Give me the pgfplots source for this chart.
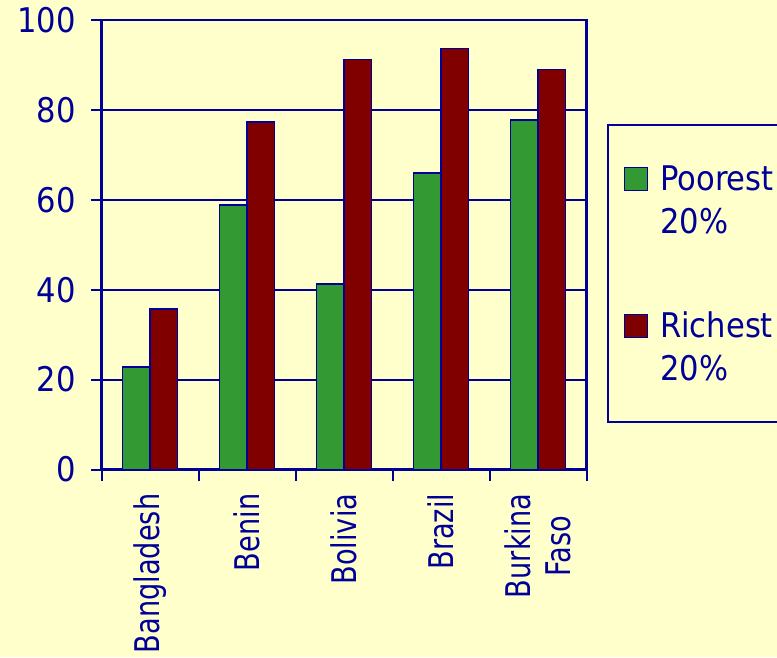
\documentclass[border=0pt]{standalone}
\usepackage{fontspec}
\setmainfont{DejaVu Sans}[FakeStretch=0.9]
\newfontfamily\labfont{DejaVu Sans}[FakeStretch=0.8]
\usepackage{pgfplots}
\pgfplotsset{compat=1.18}
\definecolor{bg}{RGB}{255,255,204}
\definecolor{navy}{RGB}{0,0,153}
\definecolor{pgreen}{RGB}{51,153,51}
\definecolor{pred}{RGB}{128,0,0}
\begin{document}
\fontsize{34}{43}\selectfont
\begin{tikzpicture}
\useasboundingbox (0pt,0pt) rectangle (777pt,657pt);
\fill[bg] (0pt,0pt) rectangle (777pt,657pt);
\clip (0pt,0pt) rectangle (777pt,657pt);
\begin{axis}[
  at={(101.7pt,187.5pt)}, anchor=south west,
  scale only axis, width=485pt, height=449.5pt,
  ymin=0, ymax=100, ytick={0,20,...,100},
  xmin=-0.5, xmax=4.5,
  xtick={-0.5,0.5,1.5,2.5,3.5,4.5},
  xticklabels={},
  extra x ticks={0,1,2,3,4},
  extra x tick labels={Bangladesh,Benin,Bolivia,Brazil,{Burkina\\Faso}},
  extra x tick style={tick style={draw=none}},
  xtick pos=bottom, ytick pos=left,
  xticklabel style={rotate=90, anchor=east, align=center, inner sep=0pt, xshift=-13pt,
    font=\labfont\fontsize{34}{40}\selectfont},
  yticklabel style={anchor=east, inner sep=0pt, xshift=-15pt},
  tick label style={text=navy},
  /pgf/number format/assume math mode=true,
  tick align=outside,
  major tick length=11pt,
  tick style={navy, line width=2pt},
  axis line style={navy, line width=2.5pt},
  ymajorgrids,
  grid style={navy, line width=2pt},
  legend style={at={(1,1)}, anchor=north west, xshift=20pt, yshift=-104pt,
    draw=navy, line width=2pt, fill=none, text=navy,
    inner xsep=16pt, inner ysep=0pt, row sep=0pt, column sep=10pt,
    cells={anchor=base west, inner sep=0pt}},
]
\addplot[ybar, bar width=27.5pt, bar shift=-13.75pt, fill=pgreen, draw=navy, line width=1.5pt,
  legend image code/.code={\draw[fill=pgreen, draw=navy, line width=1.5pt] (0pt,0pt) rectangle (23pt,23pt);}]
  coordinates {(0,22.8) (1,58.8) (2,41.3) (3,66.0) (4,77.7)};
\addlegendentry[text height=63.5pt, text depth=0pt]{Poorest}
\addlegendimage{empty legend}
\addlegendentry[text height=38.5pt, text depth=0pt]{20\%}
\addplot[ybar, bar width=27.5pt, bar shift=13.75pt, fill=pred, draw=navy, line width=1.5pt,
  legend image code/.code={\draw[fill=pred, draw=navy, line width=1.5pt] (0pt,0pt) rectangle (23pt,23pt);}]
  coordinates {(0,35.7) (1,77.3) (2,91.2) (3,93.7) (4,89.0)};
\addlegendentry[text height=100.5pt, text depth=0pt]{Richest}
\addlegendimage{empty legend}
\addlegendentry[text height=38.5pt, text depth=0pt]{20\%}
\addlegendimage{empty legend}
\addlegendentry[text height=36pt, text depth=0pt]{\mbox{}}
\end{axis}
\end{tikzpicture}
\end{document}
